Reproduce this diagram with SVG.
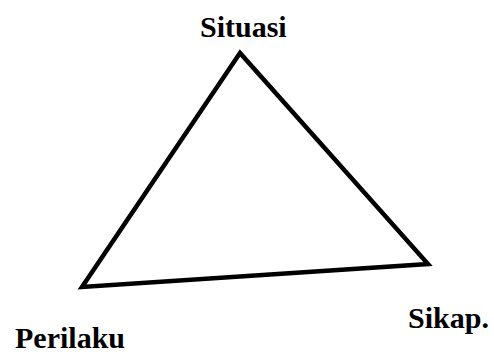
<svg xmlns="http://www.w3.org/2000/svg" width="494" height="358" viewBox="0 0 494 358">
<style>
.lbl{font-family:"Liberation Serif","Times New Roman",serif;font-weight:bold;font-size:30px;fill:#000}
.edge{stroke:#000;stroke-width:4.5;fill:none;stroke-linejoin:miter;stroke-linecap:round}
</style>
<rect width="494" height="358" fill="#fff"/>
<g id="connectors">
<path class="edge" d="M240,53 L82,287 L428,264 Z"/>
</g>
<g id="node-situasi"><text class="lbl" x="200" y="37">Situasi</text></g>
<g id="node-perilaku"><text class="lbl" x="15" y="348">Perilaku</text></g>
<g id="node-sikap"><text class="lbl" x="408" y="328">Sikap.</text></g>
</svg>
